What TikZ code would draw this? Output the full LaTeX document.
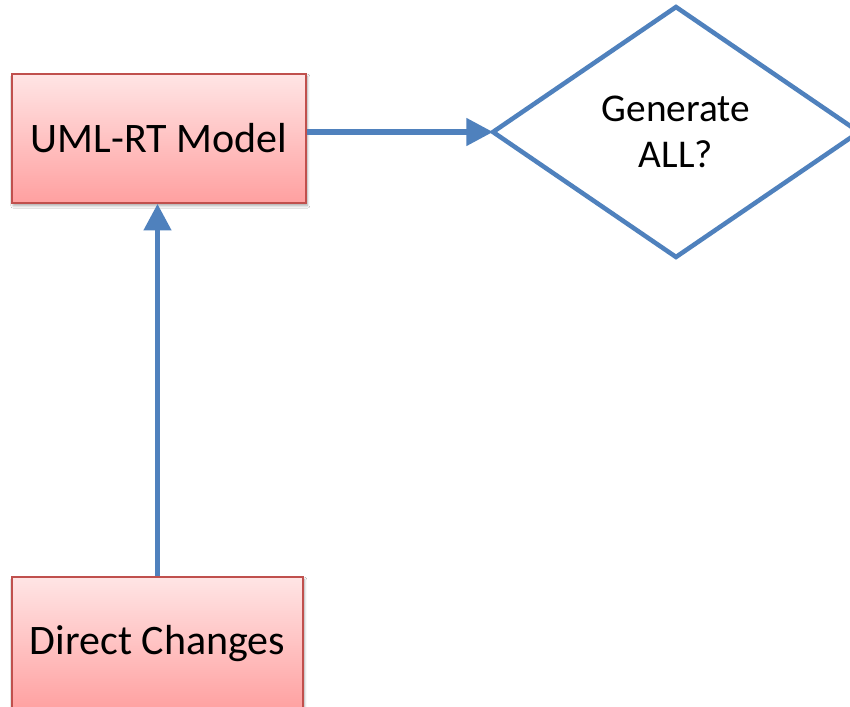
\documentclass[tikz,border=0pt]{standalone}
\usepackage{fontspec}
\setmainfont{Carlito}
\usetikzlibrary{arrows.meta,shapes.geometric,shadows.blur}
\definecolor{boxtop}{RGB}{255,229,229}
\definecolor{boxbot}{RGB}{255,160,160}
\definecolor{boxline}{RGB}{192,80,77}
\definecolor{flowblue}{RGB}{79,129,189}
\tikzset{
  redbox/.style={rectangle, draw=boxline, line width=1.2pt,
    top color=boxtop, bottom color=boxbot, inner sep=0pt,
    font=\fontsize{31.5}{37}\selectfont,
    blur shadow={shadow xshift=1pt, shadow yshift=-2pt, shadow blur steps=6, shadow opacity=35}},
  decision/.style={diamond, draw=flowblue, line width=3.4pt, fill=white,
    inner sep=0pt, outer sep=0pt, align=center, font=\fontsize{29.5}{35}\selectfont},
  flow/.style={draw=flowblue, line width=4.2pt,
    -{Triangle[length=20pt,width=20pt]}}
}
\begin{document}
\begin{tikzpicture}[x=0.75pt,y=-0.75pt]
  \useasboundingbox (0,0) rectangle (850,707);
  \clip (0,0) rectangle (850,707);
  \fill[white] (0,0) rectangle (850,707);
  % process boxes
  \node[redbox, minimum width=220.5pt, minimum height=96.75pt] (uml) at (159,138.5) {UML-RT Model};
  \node[redbox, minimum width=218.25pt, minimum height=100.5pt] (dc) at (157.5,644) {Direct Changes};
  % decision
  \node[decision, minimum width=274.5pt, minimum height=187.5pt] (gen) at (676,132) {Generate\\ALL?};
  % connectors
  \draw[flow] (uml.east |- gen.west) -- (gen.west);
  \draw[flow] (dc.north) -- (dc.north |- uml.south);
\end{tikzpicture}
\end{document}
